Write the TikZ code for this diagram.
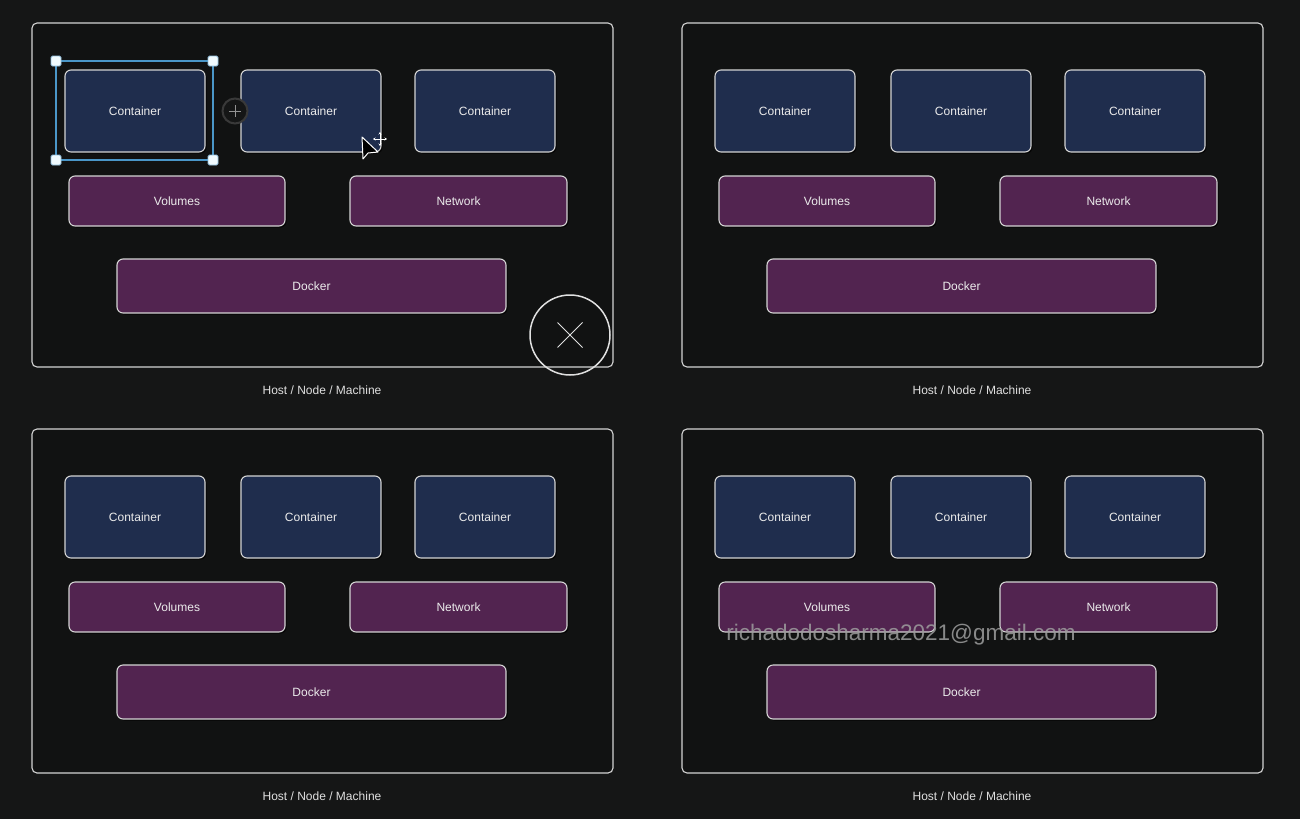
\documentclass[tikz,border=0pt]{standalone}
\usepackage{fontspec}
\setmainfont{Liberation Sans}
\usetikzlibrary{shadows,arrows.meta}
\definecolor{canvasbg}{RGB}{21,22,22}
\definecolor{hostbg}{RGB}{17,18,18}
\definecolor{edgegray}{RGB}{212,212,212}
\definecolor{contblue}{RGB}{31,45,77}
\definecolor{layerpurple}{RGB}{82,36,80}
\definecolor{selblue}{RGB}{74,150,200}

\begin{document}
\begin{tikzpicture}[x=1pt, y=-1pt,
  box/.style={draw=edgegray, line width=1.1pt, rounded corners=6pt, text=white!92!black,
    font=\fontsize{12}{14}\selectfont,
    drop shadow={shadow xshift=1.5pt, shadow yshift=-1.5pt, fill=black, opacity=0.7}},
  containerbox/.style={box, fill=contblue, minimum width=140pt, minimum height=82pt},
  layerbox/.style={box, fill=layerpurple, minimum height=50pt},
  hostbox/.style={draw=edgegray, line width=1.1pt, rounded corners=5pt, fill=hostbg,
    minimum width=581pt, minimum height=344pt},
  caption/.style={font=\fontsize{12}{14}\selectfont, text=white!88!black},
  handle/.style={draw=selblue!60, fill=white!94!cyan, line width=0.8pt, minimum size=10pt, inner sep=0pt, rounded corners=1.5pt}]

\fill[canvasbg] (0,0) rectangle (1300,819);
\useasboundingbox (0,0) rectangle (1300,819);

% the four hosts
\foreach \ox/\oy/\p in {32/23/a, 682/23/b, 32/429/c, 682/429/d}{
  \begin{scope}[shift={(\ox,\oy)}]
    \node[hostbox] (host-\p) at (290.5,172) {};
    \node[caption] (cap-\p) at (290,367) {Host / Node / Machine};

    \node[containerbox] (cont1-\p) at (103,88) {Container};
    \node[containerbox] (cont2-\p) at (279,88) {Container};
    \node[containerbox] (cont3-\p) at (453,88) {Container};

    \node[layerbox, minimum width=216pt] (vol-\p) at (145,178) {Volumes};
    \node[layerbox, minimum width=217pt] (net-\p) at (426.5,178) {Network};

    \node[layerbox, minimum width=389pt, minimum height=54pt] (docker-\p) at (279.5,263) {Docker};
  \end{scope}
}

% selection frame
\draw[selblue, line width=1.2pt] (56,61) rectangle (213,160);
\foreach \hx/\hy in {56/61, 213/61, 56/160, 213/160}
  \node[handle] at (\hx,\hy) {};

% add button
\node[circle, draw=gray!45!black, line width=2pt, fill=canvasbg, minimum size=25pt, inner sep=0pt] (addbtn) at (235,111) {};
\draw[gray!85, line width=0.9pt] ([xshift=-6pt]addbtn.center) -- ([xshift=6pt]addbtn.center);
\draw[gray!85, line width=0.9pt] ([yshift=-6pt]addbtn.center) -- ([yshift=6pt]addbtn.center);

% cursor
\draw[white, fill=black, line width=1pt, line join=round] (362,137) -- (363,159) -- (368,153) -- (378,152) -- cycle;
\coordinate (movec) at (380,139);
\foreach \mx/\my in {0/-7, 0/7, -7/0, 7/0}
  \draw[white, line width=0.9pt, -{Stealth[length=2.5pt, width=3pt]}] (movec) -- ++(\mx,\my);

% close button
\node[circle, draw=white!88!black, line width=1.5pt, minimum size=80pt, inner sep=0pt] (closebtn) at (570,335) {};
\draw[white!88!black, line width=1pt] ([shift={(-12.5pt,-12.5pt)}]closebtn.center) -- ([shift={(12.5pt,12.5pt)}]closebtn.center);
\draw[white!88!black, line width=1pt] ([shift={(-12.5pt,12.5pt)}]closebtn.center) -- ([shift={(12.5pt,-12.5pt)}]closebtn.center);

% watermark
\node[text=white!62!black, opacity=0.85, font=\fontsize{22.5}{24}\selectfont] (mail) at (901,635) {richadodosharma2021@gmail.com};

\end{tikzpicture}
\end{document}
